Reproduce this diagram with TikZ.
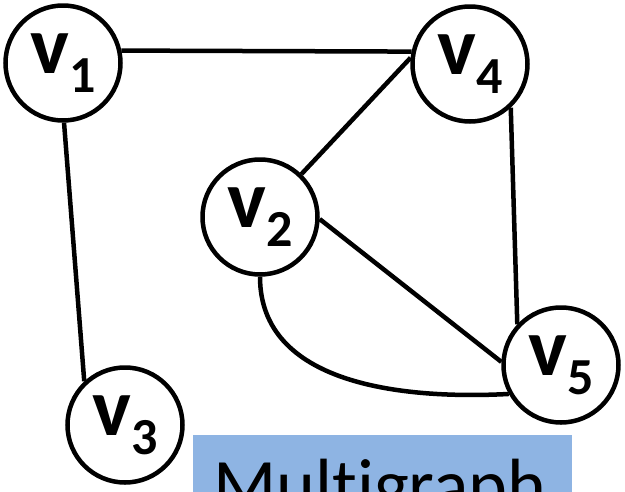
\documentclass[tikz,border=0pt]{standalone}
\usepackage{fontspec}
\setmainfont{Carlito}[Ligatures=NoCommon]
\definecolor{boxblue}{RGB}{142,180,227}
\newcommand\vlab[1]{\fontsize{82}{82}\selectfont\bfseries v\raisebox{-19pt}{\fontsize{52}{52}\selectfont #1}}
\tikzset{
  vert/.style={circle,draw=black,line width=4.5pt,fill=white,minimum size=115pt,inner sep=0pt},
  edge/.style={line width=4.5pt},
  tagbox/.style={fill=boxblue,draw=none}
}
\begin{document}
\begin{tikzpicture}[x=1pt,y=-1pt]
\useasboundingbox (0,0) rectangle (625,491);
\clip (0,0) rectangle (625,491);
\fill[tagbox] (193,435) rectangle (572,500);
\node[anchor=base west,inner sep=0pt,font=\fontsize{74}{74}\selectfont] (title) at (213,510) {Mult\kern0pt igraph};
\node[vert] (v1) at (63,63) {\vlab{1}};
\node[vert] (v4) at (470,64) {\vlab{4}};
\node[vert] (v2) at (260,217) {\vlab{2}};
\node[vert] (v5) at (561,365) {\vlab{5}};
\node[vert] (v3) at (125,425) {\vlab{3}};
\draw[edge] (v1.12) -- (v4.168);
\draw[edge] (v1.-89) -- (v3.133);
\draw[edge] (v2.46) -- (v4.174);
\draw[edge] (v2.-2) -- (v5.177);
\draw[edge] (v4.-47) -- (v5.137);
\draw[edge] (v2.-90) to[out=-90,in=183] (v5.209);
\end{tikzpicture}
\end{document}
